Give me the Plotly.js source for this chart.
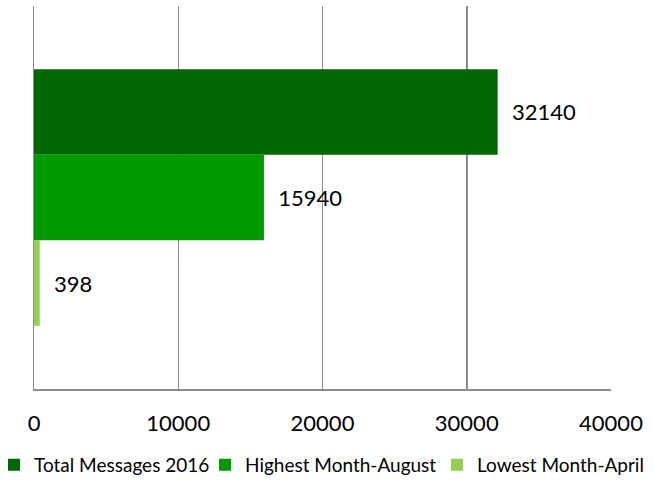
<!DOCTYPE html>
<html>
<head>
<meta charset="utf-8">
<script src="https://cdn.plot.ly/plotly-3.0.1.min.js"></script>
<style>html,body{margin:0;padding:0;background:#fff;}#chart{width:653px;height:480px;}</style>
</head>
<body>
<div id="chart"></div>
<script>
var category = ['Messages'];
var seriesNames = ['Total Messages 2016', 'Highest Month-August', 'Lowest Month-April'];
var totalMessages = [32140];
var highestMonth = [15940];
var lowestMonth = [398];
var seriesColors = ['#006600', '#009900', '#92D050'];
var tickValues = [0, 10000, 20000, 30000, 40000];
var tickLabels = ['0', '10000', '20000', '30000', '40000'];

var seriesValues = [totalMessages, highestMonth, lowestMonth];
var legendIds = ['legend', 'legend2', 'legend3'];
var pad = '\u00a0\u00a0';
var traces = seriesValues.map(function (vals, i) {
  return {
    type: 'bar',
    orientation: 'h',
    name: seriesNames[i],
    legend: legendIds[i],
    y: category,
    x: vals,
    marker: {color: seriesColors[i]},
    text: vals.map(function (v) { return pad + String(v); }),
    textposition: 'outside',
    constraintext: 'none',
    cliponaxis: false,
    textfont: {family: 'Lato, sans-serif', size: 22, color: '#000'},
    hoverinfo: 'x+name'
  };
});

var legendFont = {family: 'Lato, sans-serif', size: 19, color: '#000'};
function legendAt(xPos) {
  return {
    orientation: 'h',
    x: xPos, xanchor: 'left',
    y: -0.198, yanchor: 'middle',
    font: legendFont,
    bgcolor: 'rgba(0,0,0,0)',
    borderwidth: 0,
    itemclick: false
  };
}

var layout = {
  width: 653, height: 480,
  margin: {l: 34, r: 42, t: 6, b: 91, autoexpand: false},
  paper_bgcolor: '#fff', plot_bgcolor: '#fff',
  barmode: 'group',
  bargap: 0.33,
  bargroupgap: 0,
  font: {family: 'Lato, sans-serif', color: '#000'},
  xaxis: {
    range: [0, 40000],
    tickvals: tickValues,
    ticktext: tickLabels,
    showgrid: true,
    gridcolor: '#8c8c8c',
    gridwidth: 1.5,
    zeroline: false,
    showline: true,
    linecolor: '#8c8c8c',
    linewidth: 1.5,
    ticks: '',
    ticklabelstandoff: 14,
    tickfont: {family: 'Lato, sans-serif', size: 22, color: '#000'}
  },
  yaxis: {
    autorange: 'reversed',
    showticklabels: false,
    showgrid: false,
    zeroline: false,
    showline: true,
    linecolor: '#8c8c8c',
    linewidth: 1.5,
    ticks: ''
  },
  showlegend: true,
  legend: legendAt(-0.0693),
  legend2: legendAt(0.2964),
  legend3: legendAt(0.6984)
};

Plotly.newPlot('chart', traces, layout, {displayModeBar: false, staticPlot: true});
</script>
</body>
</html>
